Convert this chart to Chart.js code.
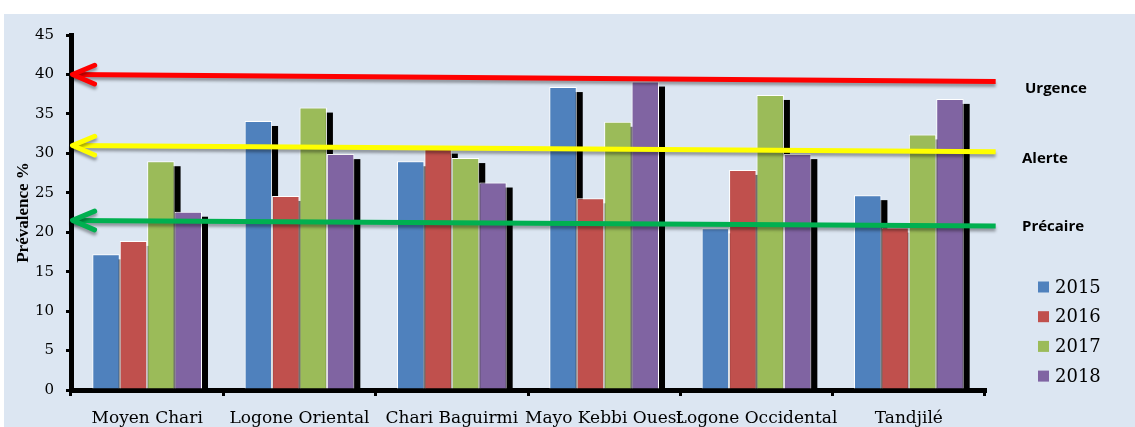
<!DOCTYPE html>
<html>
<head>
<meta charset="utf-8">
<script src="https://cdn.jsdelivr.net/npm/chart.js@4.4.0/dist/chart.umd.min.js"></script>
<style>
  body { margin: 0; background: #ffffff; }
  #wrap { position: absolute; left: 4px; top: 14px; width: 1131px; height: 413px; background: #dce6f2; }
</style>
</head>
<body>
<div id="wrap"><canvas id="prevalenceChart" width="1131" height="413"></canvas></div>
<script>
// data
const regions = ['Moyen Chari', 'Logone Oriental', 'Chari Baguirmi', 'Mayo Kebbi Ouest', 'Logone Occidental', 'Tandjilé'];
const years = ['2015', '2016', '2017', '2018'];
const values2015 = [17.2, 34.1, 29.0, 38.4, 20.5, 24.7];
const values2016 = [18.9, 24.6, 30.6, 24.3, 27.9, 20.6];
const values2017 = [29.0, 35.8, 29.4, 34.0, 37.4, 32.4];
const values2018 = [22.6, 29.9, 26.3, 39.1, 29.9, 36.9];
const yearColors = ['#4f81bd', '#c0504d', '#9bbb59', '#8064a2'];

// threshold arrows (slightly sloped in the original)
const thresholdNames = ['Urgence', 'Alerte', 'Précaire'];
const thresholdStart = [40, 31, 21.5];
const thresholdEnd = [39.1, 30.2, 20.8];
const thresholdSpan = [0.01, 6.07];
const thresholdColors = ['#ff0000', '#ffff00', '#00b050'];

const yMin = 0, yMax = 45, yStep = 5;

Chart.defaults.font.family = '"DejaVu Serif"';
Chart.defaults.color = '#000';

const barSets = [values2015, values2016, values2017, values2018].map((vals, i) => ({
  label: years[i],
  data: vals,
  backgroundColor: yearColors[i],
  borderColor: '#ffffff',
  borderWidth: 1,
  categoryPercentage: 0.72,
  barPercentage: 1.0
}));

// black drop shadow behind every bar
const barShadow = {
  id: 'barShadow',
  beforeDatasetsDraw(chart) {
    const ctx = chart.ctx;
    ctx.save();
    ctx.fillStyle = '#000';
    chart.data.datasets.forEach((ds, i) => {
      chart.getDatasetMeta(i).data.forEach(bar => {
        const left = bar.x - bar.width / 2 + 6;
        const top = bar.y + 5;
        ctx.fillRect(left, top, bar.width, bar.base - top);
      });
    });
    ctx.restore();
  }
};

// threshold lines with arrow heads, positioned through the xl / y scales
const thresholdArrows = {
  id: 'thresholdArrows',
  afterDatasetsDraw(chart) {
    const { ctx, scales } = chart;
    const len = 24, spread = 0.4;
    thresholdNames.forEach((name, i) => {
      const x0 = scales.xl.getPixelForValue(thresholdSpan[0]);
      const x1 = scales.xl.getPixelForValue(thresholdSpan[1]);
      const y0 = scales.y.getPixelForValue(thresholdStart[i]);
      const y1 = scales.y.getPixelForValue(thresholdEnd[i]);
      const a = Math.atan2(y1 - y0, x1 - x0);
      ctx.save();
      ctx.shadowColor = 'rgba(0,0,0,0.35)';
      ctx.shadowBlur = 3;
      ctx.shadowOffsetY = 3;
      ctx.strokeStyle = thresholdColors[i];
      ctx.lineWidth = 5;
      ctx.beginPath();
      ctx.moveTo(x0, y0);
      ctx.lineTo(x1, y1);
      ctx.stroke();
      ctx.lineCap = 'round';
      ctx.lineJoin = 'round';
      ctx.beginPath();
      ctx.moveTo(x0 + len * Math.cos(a - spread), y0 + len * Math.sin(a - spread));
      ctx.lineTo(x0, y0);
      ctx.lineTo(x0 + len * Math.cos(a + spread), y0 + len * Math.sin(a + spread));
      ctx.stroke();
      ctx.restore();
    });
  }
};

// threshold names and year legend on the right
const sideText = {
  id: 'sideText',
  afterDraw(chart) {
    const { ctx, chartArea, scales } = chart;
    ctx.save();
    ctx.fillStyle = '#000';
    ctx.textBaseline = 'middle';
    ctx.font = 'bold 15px "Open Sans"';
    const shift = [7, 7, 1];
    const indent = [40, 37, 37];
    thresholdNames.forEach((name, i) => {
      ctx.fillText(name, chartArea.right + indent[i], scales.y.getPixelForValue(thresholdEnd[i]) + shift[i]);
    });
    ctx.font = '18px "DejaVu Serif"';
    chart.data.datasets.forEach((ds, row) => {
      const cy = chartArea.bottom - 103 + row * 29.7;
      ctx.fillStyle = ds.backgroundColor;
      ctx.fillRect(chartArea.right + 53, cy - 5.5, 11, 11);
      ctx.fillStyle = '#000';
      ctx.fillText(ds.label, chartArea.right + 70, cy + 1);
    });
    ctx.restore();
  }
};

new Chart(document.getElementById('prevalenceChart'), {
  type: 'bar',
  data: {
    labels: regions,
    datasets: barSets
  },
  options: {
    responsive: false,
    animation: false,
    layout: { padding: { top: 15, right: 150, left: 0, bottom: 0 } },
    datasets: { bar: { categoryPercentage: 0.72, barPercentage: 1.0 } },
    plugins: {
      legend: { display: false },
      tooltip: { enabled: false }
    },
    scales: {
      x: {
        afterFit(scale) { scale.height = 37; },
        grid: { drawOnChartArea: false, color: '#000', lineWidth: 3, tickLength: 6, offset: true },
        border: { color: '#000', width: 5 },
        ticks: { maxRotation: 0, autoSkip: false, padding: 12, font: { size: 17 } }
      },
      xl: {
        type: 'linear',
        axis: 'x',
        display: false,
        offset: false,
        min: 0,
        max: regions.length
      },
      y: {
        min: yMin,
        max: yMax,
        afterFit(scale) { scale.width = 67; },
        grid: { drawOnChartArea: false, color: '#000', lineWidth: 3, tickLength: 5 },
        border: { color: '#000', width: 5 },
        ticks: { stepSize: yStep, padding: 12, font: { size: 15 } },
        title: {
          display: true,
          text: 'Prévalence %',
          font: { family: '"Liberation Serif"', size: 17, weight: 'bold' },
          padding: { top: 9, bottom: 0 }
        }
      }
    }
  },
  plugins: [barShadow, thresholdArrows, sideText]
});
</script>
</body>
</html>
